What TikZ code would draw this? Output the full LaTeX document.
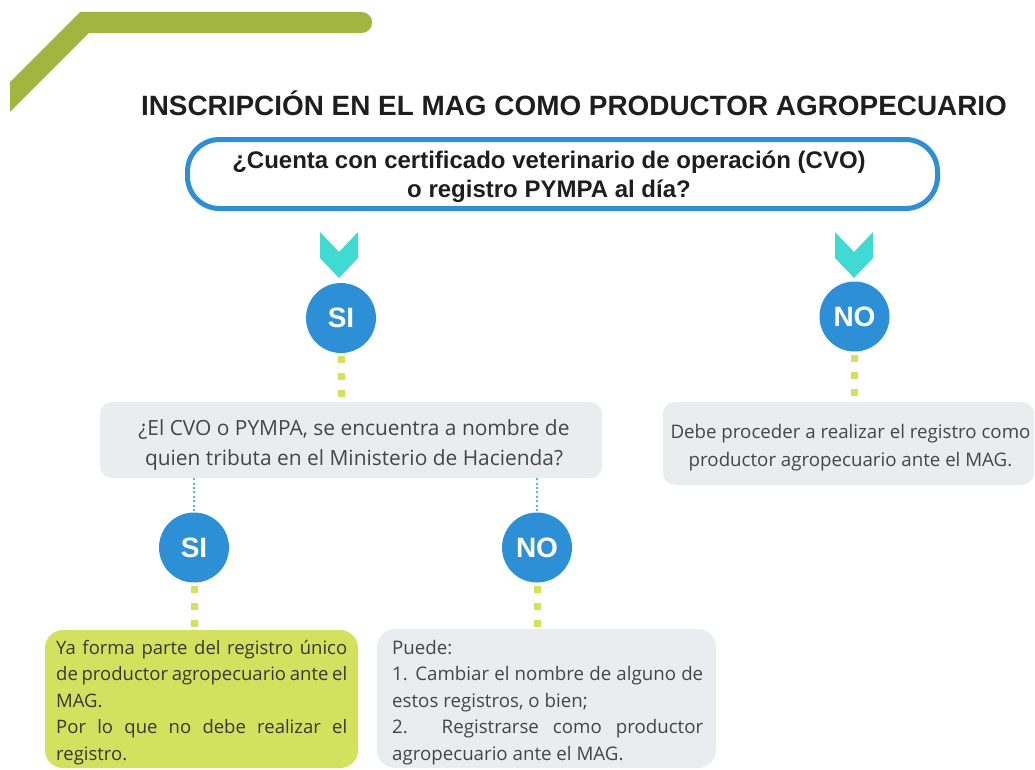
\documentclass[tikz,border=0pt]{standalone}
\usepackage{fontspec}
\setmainfont{Open Sans}
\newfontfamily\headfont{Liberation Sans}
\definecolor{bargreen}{RGB}{162,181,64}
\definecolor{titleblack}{RGB}{30,30,30}
\definecolor{qblue}{RGB}{46,143,214}
\definecolor{circblue}{RGB}{45,144,214}
\definecolor{chevteal}{RGB}{64,218,211}
\definecolor{dotgreen}{RGB}{212,225,92}
\definecolor{dotblue}{RGB}{80,182,245}
\definecolor{boxgrey}{RGB}{233,237,240}
\definecolor{boxgreen}{RGB}{212,225,95}
\definecolor{bodytext}{RGB}{70,70,70}
\newcommand{\jl}[2]{\hbox to #1{#2}}
\newcommand{\lft}[2]{\hbox to #1{#2\hfil}}
\newcommand{\ctr}[2]{\hbox to #1{\hss #2\hss}}
\tikzset{
  circnode/.style={circle, fill=circblue, inner sep=0pt, minimum size=70pt,
    text=white, font=\headfont\bfseries\fontsize{28}{30}\selectfont},
  greybox/.style={rectangle, fill=boxgrey, rounded corners=12pt, inner sep=0pt},
  greenbox/.style={rectangle, fill=boxgreen, rounded corners=18pt, inner sep=0pt},
  bodyfont/.style={inner sep=0pt, text=bodytext},
  greendots/.style={draw=dotgreen, line width=7pt, dash pattern=on 7pt off 10pt, dash phase=14pt},
  bluedots/.style={draw=dotblue, line width=2.2pt, dash pattern=on 2pt off 2.4pt},
  chevron/.style={fill=chevteal}
}
\begin{document}
\begin{tikzpicture}[x=1pt,y=-1pt]
\useasboundingbox (0,0) rectangle (1035,769);
% top decorative bar
\begin{scope}
  \clip (10,0) rectangle (1035,769);
  \draw[bargreen, line width=21.2pt, line cap=round, line join=miter] (-10,117) -- (84.5,22.5) -- (361.5,22.5);
\end{scope}
% title
\node[anchor=base, inner sep=0pt, text=titleblack, font=\headfont\bfseries\fontsize{27.9}{30}\selectfont] (title) at (574,115.5) {INSCRIPCIÓN EN EL MAG COMO PRODUCTOR AGROPECUARIO};
% question box
\node[rectangle, draw=qblue, line width=5pt, rounded corners=32pt, minimum width=750pt, minimum height=69pt, inner sep=0pt] (q1) at (562.5,174) {};
\node[anchor=base, inner sep=0pt, text=titleblack, font=\headfont\bfseries\fontsize{24}{29}\selectfont] (q1t) at (549,168) {\vtop{\ctr{700pt}{¿Cuenta con certificado veterinario de operación (CVO)}\ctr{700pt}{o registro PYMPA al día?}}};
% chevrons
\fill[chevron] (320,232) -- (339,252) -- (358,232) -- (358,258) -- (339,278) -- (320,258) -- cycle;
\fill[chevron] (835,232) -- (854,252) -- (873,232) -- (873,258) -- (854,278) -- (835,258) -- cycle;
% circles
\node[circnode] (si1) at (341,318) {SI};
\node[circnode] (no1) at (854.5,316.5) {NO};
\node[circnode] (si2) at (194,547.5) {SI};
\node[circnode] (no2) at (537,547.5) {NO};
% boxes
\node[greybox, minimum width=502pt, minimum height=76pt] (q2) at (351,440) {};
\node[anchor=base, bodyfont, font=\fontsize{20.9}{30}\selectfont] (q2t) at (354,435.5) {\vtop{\ctr{500pt}{¿El CVO o PYMPA, se encuentra a nombre de}\ctr{500pt}{quien tributa en el Ministerio de Hacienda?}}};
\node[greybox, minimum width=371pt, minimum height=83pt] (r1) at (848.5,443.5) {};
\node[anchor=base, bodyfont, font=\fontsize{18.7}{28}\selectfont] (r1t) at (850.5,438.5) {\vtop{\ctr{370pt}{Debe proceder a realizar el registro como}\ctr{370pt}{productor agropecuario ante el MAG.}}};
\node[greenbox, minimum width=313pt, minimum height=138pt] (l1) at (201.5,699) {};
\node[anchor=base west, bodyfont, text=black!78, font=\fontsize{18.5}{26.5}\selectfont] (l1t) at (56,654) {\vtop{%
  \jl{291pt}{Ya forma parte del registro único}%
  \jl{291pt}{de productor agropecuario ante el}%
  \lft{291pt}{MAG.}%
  \jl{291pt}{Por lo que no debe realizar el}%
  \lft{291pt}{registro.}}};
\node[greybox, rounded corners=18pt, minimum width=339pt, minimum height=139pt] (m1) at (546.5,698.5) {};
\node[anchor=base west, bodyfont, font=\fontsize{18.7}{26.5}\selectfont] (m1t) at (392,654) {\vtop{%
  \lft{311pt}{Puede:}%
  \jl{311pt}{1. Cambiar el nombre de alguno de}%
  \lft{311pt}{estos registros, o bien;}%
  \jl{311pt}{2. Registrarse como productor}%
  \lft{311pt}{agropecuario ante el MAG.}}};
% connectors
\draw[greendots] (si1.south) -- (si1.south |- q2.north);
\draw[greendots] (no1.south) -- (no1.south |- r1.north);
\draw[bluedots] (q2.south -| si2.north) -- (si2.north);
\draw[bluedots] (q2.south -| no2.north) -- (no2.north);
\draw[greendots] (si2.south) -- (si2.south |- l1.north);
\draw[greendots] (no2.south) -- (no2.south |- m1.north);
\end{tikzpicture}
\end{document}
